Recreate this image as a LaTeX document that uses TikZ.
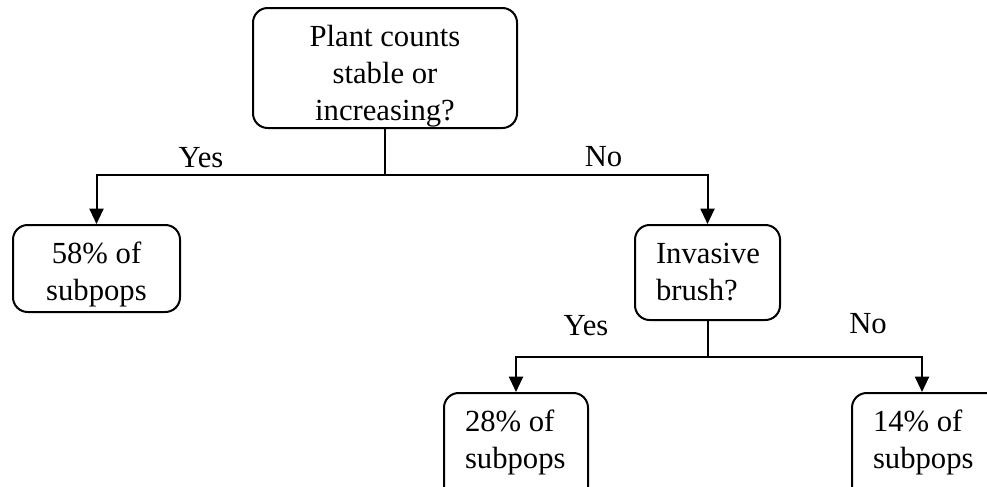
\documentclass[tikz,border=0pt]{standalone}
\usepackage{fontspec}
\setmainfont{Liberation Serif}
\usetikzlibrary{positioning, arrows.meta}

% text block of a box: alignment, width, height, lines
\newcommand{\cardtext}[4]{\parbox[c][#3][t]{#2}{#1\rule{0pt}{28.5pt}#4}}

\begin{document}
\begin{tikzpicture}[x=0.75pt, y=-0.75pt,
    every node/.style={font=\fontsize{23}{27.75}\selectfont},
    card/.style={draw, line width=1.5pt, rounded corners=11pt, inner ysep=0pt, inner xsep=0pt},
    lcard/.style={card, inner xsep=15.75pt},
    flow/.style={line width=1.5pt, -{Triangle[length=11.5pt, width=10.5pt]}}]
    \useasboundingbox (0,0) rectangle (987,486);
    \clip (0,0) rectangle (987,486);

    \node[card] (plant) at (385,68)
      {\cardtext{\centering}{198pt}{90pt}{Plant counts\\stable or\\increasing?}};
    \node[card] (sub58) at (96.5,268.5)
      {\cardtext{\centering}{125.25pt}{65.25pt}{58\% of\\subpops}};
    \node[lcard] (brush) at (707.5,272.5)
      {\cardtext{\raggedright}{77.25pt}{71.25pt}{Invasive\\brush?}};
    \node[lcard] (sub28) at (516,450)
      {\cardtext{\raggedright}{76.5pt}{85.5pt}{28\% of\\subpops}};
    \node[lcard] (sub14) at (942,450)
      {\cardtext{\raggedright}{103.5pt}{85.5pt}{14\% of\\subpops}};

    % first split
    \coordinate (fork1) at (385,175);
    \draw[flow] (plant) -- (fork1) -| (sub58);
    \draw[flow] (fork1) -| (brush);
    \node[anchor=base] (yes1) at (201,167) {Yes};
    \node[anchor=base] (no1) at (603.5,166) {No};

    % second split
    \coordinate (fork2) at (707.5,357);
    \draw[flow] (brush) -- (fork2) -| (sub28);
    \draw[flow] (fork2) -| ([xshift=53.25pt]sub14.north west);
    \node[anchor=base] (yes2) at (586,335) {Yes};
    \node[anchor=base] (no2) at (868,333) {No};
\end{tikzpicture}
\end{document}
